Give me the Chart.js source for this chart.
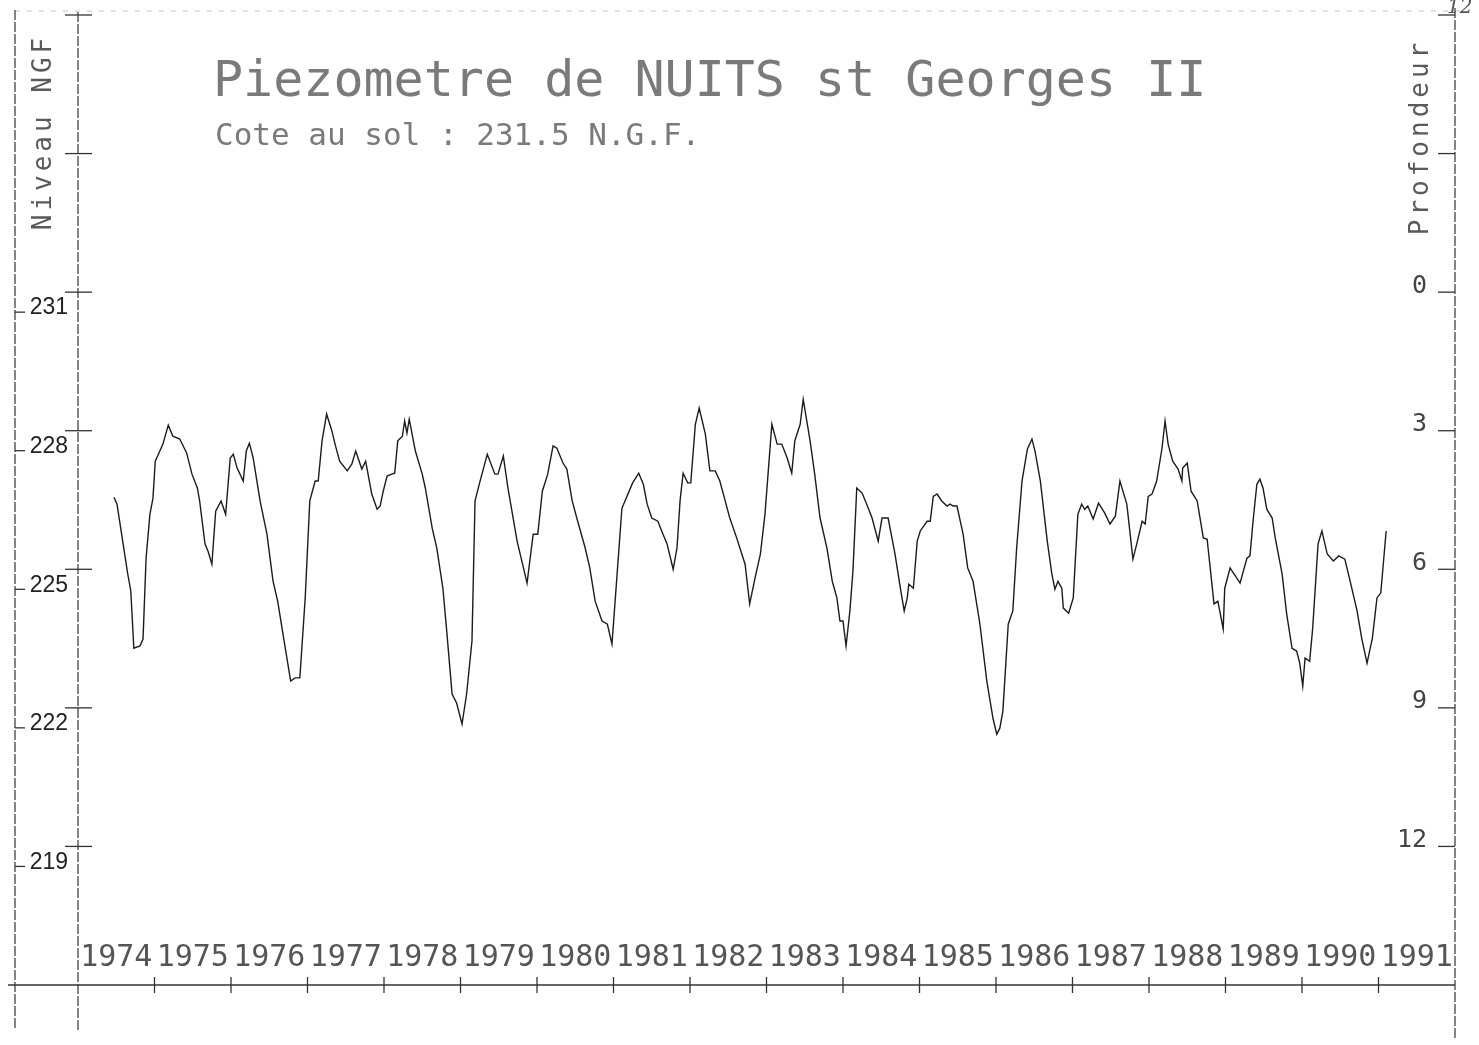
<!DOCTYPE html>
<html lang="fr">
<head>
  <meta charset="UTF-8" />
  <title>Piezometre de NUITS st Georges II</title>
  <style>
    body { margin: 0; background: #fff; }
    .cadre { width: 1479px; height: 1045px; position: relative; }
  </style>
</head>
<body>
  <div class="cadre"><canvas id="graphe"></canvas></div>

  <script src="https://cdn.jsdelivr.net/npm/chart.js"></script>
  <script>
    // relevés (année décimale, niveau NGF en m)
    const annees = [
      1974.47, 1974.51, 1974.65, 1974.69, 1974.73, 1974.81, 1974.85, 1974.89, 1974.94, 1974.98,
      1975.01, 1975.07, 1975.11, 1975.18, 1975.24, 1975.33, 1975.42, 1975.49, 1975.56, 1975.59,
      1975.66, 1975.70, 1975.75, 1975.80, 1975.87, 1975.93, 1975.99, 1976.03, 1976.08, 1976.16,
      1976.20, 1976.24, 1976.29, 1976.38, 1976.47, 1976.55, 1976.61, 1976.71, 1976.78, 1976.84,
      1976.90, 1976.97, 1977.03, 1977.10, 1977.14, 1977.19, 1977.25, 1977.32, 1977.36, 1977.42,
      1977.52, 1977.58, 1977.63, 1977.71, 1977.76, 1977.84, 1977.91, 1977.95, 1977.99, 1978.04,
      1978.10, 1978.14, 1978.18, 1978.24, 1978.27, 1978.30, 1978.33, 1978.41, 1978.50, 1978.54,
      1978.63, 1978.69, 1978.77, 1978.82, 1978.89, 1978.95, 1979.02, 1979.08, 1979.15, 1979.19,
      1979.25, 1979.35, 1979.45, 1979.49, 1979.56, 1979.62, 1979.74, 1979.87, 1979.95, 1980.01,
      1980.07, 1980.14, 1980.21, 1980.26, 1980.34, 1980.39, 1980.46, 1980.52, 1980.63, 1980.69,
      1980.76, 1980.85, 1980.92, 1980.98, 1981.05, 1981.11, 1981.25, 1981.33, 1981.39, 1981.44,
      1981.50, 1981.58, 1981.63, 1981.70, 1981.78, 1981.83, 1981.87, 1981.91, 1981.97, 1982.01,
      1982.07, 1982.12, 1982.20, 1982.26, 1982.33, 1982.39, 1982.46, 1982.52, 1982.61, 1982.72,
      1982.78, 1982.85, 1982.92, 1982.98, 1983.07, 1983.14, 1983.20, 1983.27, 1983.33, 1983.37,
      1983.44, 1983.48, 1983.57, 1983.63, 1983.70, 1983.79, 1983.86, 1983.92, 1983.96, 1984.00,
      1984.04, 1984.09, 1984.13, 1984.18, 1984.25, 1984.31, 1984.38, 1984.46, 1984.51, 1984.59,
      1984.68, 1984.75, 1984.80, 1984.84, 1984.86, 1984.92, 1984.97, 1985.01, 1985.10, 1985.14,
      1985.18, 1985.23, 1985.29, 1985.36, 1985.40, 1985.44, 1985.49, 1985.57, 1985.63, 1985.70,
      1985.79, 1985.88, 1985.96, 1986.01, 1986.05, 1986.09, 1986.16, 1986.22, 1986.27, 1986.34,
      1986.41, 1986.47, 1986.51, 1986.58, 1986.67, 1986.73, 1986.77, 1986.81, 1986.86, 1986.88,
      1986.95, 1987.01, 1987.07, 1987.12, 1987.16, 1987.20, 1987.27, 1987.34, 1987.42, 1987.49,
      1987.56, 1987.62, 1987.71, 1987.79, 1987.84, 1987.91, 1987.95, 1987.99, 1988.04, 1988.10,
      1988.17, 1988.21, 1988.25, 1988.31, 1988.38, 1988.43, 1988.44, 1988.50, 1988.55, 1988.63,
      1988.71, 1988.76, 1988.80, 1988.85, 1988.90, 1988.97, 1988.99, 1989.06, 1989.19, 1989.28,
      1989.32, 1989.36, 1989.41, 1989.45, 1989.49, 1989.54, 1989.61, 1989.65, 1989.74, 1989.80,
      1989.87, 1989.93, 1989.97, 1990.01, 1990.04, 1990.10, 1990.14, 1990.21, 1990.26, 1990.33,
      1990.41, 1990.48, 1990.56, 1990.63, 1990.72, 1990.78, 1990.85, 1990.92, 1990.98, 1991.03,
      1991.10
    ];
    const niveaux = [
      226.56, 226.41, 224.90, 224.53, 223.29, 223.34, 223.49, 225.24, 226.19, 226.54,
      227.34, 227.56, 227.71, 228.12, 227.88, 227.82, 227.52, 227.06, 226.76, 226.48,
      225.55, 225.39, 225.11, 226.26, 226.48, 226.19, 227.41, 227.49, 227.19, 226.91,
      227.56, 227.73, 227.41, 226.48, 225.76, 224.74, 224.31, 223.29, 222.58, 222.65,
      222.65, 224.38, 226.48, 226.91, 226.91, 227.78, 228.36, 227.99, 227.71, 227.34,
      227.13, 227.28, 227.56, 227.17, 227.34, 226.63, 226.30, 226.37, 226.69, 227.02,
      227.06, 227.08, 227.78, 227.88, 228.21, 227.95, 228.25, 227.56, 227.06, 226.76,
      225.89, 225.46, 224.59, 223.66, 222.30, 222.10, 221.65, 222.30, 223.45, 226.48,
      226.87, 227.49, 227.06, 227.06, 227.45, 226.76, 225.61, 224.70, 225.76, 225.76,
      226.69, 227.06, 227.67, 227.62, 227.30, 227.17, 226.48, 226.11, 225.46, 225.03,
      224.31, 223.88, 223.81, 223.38, 224.96, 226.32, 226.87, 227.08, 226.84, 226.41,
      226.11, 226.04, 225.83, 225.55, 225.00, 225.46, 226.48, 227.08, 226.87, 226.87,
      228.14, 228.49, 227.93, 227.13, 227.13, 226.91, 226.48, 226.11, 225.68, 225.11,
      224.25, 224.81, 225.33, 226.19, 228.14, 227.71, 227.71, 227.41, 227.08, 227.78,
      228.14, 228.68, 227.78, 227.06, 226.11, 225.46, 224.74, 224.38, 223.88, 223.88,
      223.34, 224.10, 224.96, 226.76, 226.65, 226.41, 226.11, 225.61, 226.11, 226.11,
      225.33, 224.59, 224.10, 224.38, 224.68, 224.59, 225.61, 225.83, 226.04, 226.04,
      226.58, 226.63, 226.48, 226.37, 226.41, 226.37, 226.37, 225.76, 225.03, 224.74,
      223.81, 222.58, 221.78, 221.43, 221.56, 221.93, 223.81, 224.10, 225.46, 226.91,
      227.60, 227.82, 227.56, 226.91, 225.61, 224.90, 224.57, 224.74, 224.59, 224.16,
      224.05, 224.38, 226.19, 226.41, 226.30, 226.37, 226.09, 226.43, 226.22, 225.98,
      226.15, 226.91, 226.41, 225.22, 225.55, 226.04, 225.98, 226.58, 226.63, 226.91,
      227.62, 228.21, 227.71, 227.34, 227.17, 226.91, 227.19, 227.30, 226.69, 226.48,
      225.68, 225.65, 225.03, 224.25, 224.31, 223.71, 224.59, 225.03, 224.70, 225.24,
      225.29, 226.04, 226.84, 226.95, 226.76, 226.30, 226.11, 225.68, 224.90, 224.03,
      223.29, 223.23, 222.97, 222.47, 223.08, 223.01, 223.73, 225.55, 225.83, 225.33,
      225.18, 225.29, 225.22, 224.74, 224.10, 223.51, 222.97, 223.51, 224.38, 224.49,
      225.83
    ];

    // axes
    const anneesAxe = [1974, 1975, 1976, 1977, 1978, 1979, 1980, 1981, 1982,
                       1983, 1984, 1985, 1986, 1987, 1988, 1989, 1990, 1991];
    const graduations = [219, 222, 225, 228, 231, 234, 237];
    const niveauxAxe = [231, 228, 225, 222, 219];
    const profondeursAxe = [0, 3, 6, 9, 12];
    const zeroProfondeur = 231;

    const titre = "Piezometre de NUITS st Georges II";
    const sousTitre = "Cote au sol : 231.5 N.G.F.";

    const MONO = '"DejaVu Sans Mono", monospace';

    const trace = {
      id: 'trace',
      beforeDatasetsDraw(chart) {
        const { ctx, chartArea: a, scales: { x, y } } = chart;
        const ligne = (x1, y1, x2, y2) => {
          ctx.beginPath(); ctx.moveTo(x1, y1); ctx.lineTo(x2, y2); ctx.stroke();
        };
        ctx.save();

        // bord haut, très pâle
        ctx.strokeStyle = '#c4c4c4';
        ctx.lineWidth = 1;
        ctx.setLineDash([5, 7]);
        ligne(15, 11, a.right + 10, 11);

        ctx.strokeStyle = '#333';
        ctx.lineWidth = 1.2;
        ctx.setLineDash([10, 2]);
        ligne(15, 10, 15, a.bottom + 45);          // cadre extérieur gauche
        ligne(a.left, 12, a.left, a.bottom + 45);   // axe des niveaux
        ligne(a.right, 8, a.right, a.bottom + 55);  // axe des profondeurs

        ctx.setLineDash([]);
        ctx.lineWidth = 1.4;
        ligne(8, a.bottom, a.right, a.bottom);      // axe des temps

        // graduations gauche et droite
        ctx.lineWidth = 1.3;
        graduations.forEach(v => {
          const py = y.getPixelForValue(v);
          ligne(a.left - 13, py, a.left + 14, py);
          ligne(a.right - 17, py, a.right, py);
        });
        // petits repères sur le cadre extérieur
        niveauxAxe.forEach(v => {
          const py = y.getPixelForValue(v) + 20;
          ligne(15, py, 25, py);
        });

        // graduations annuelles
        anneesAxe.slice(1).forEach(an => {
          const px = x.getPixelForValue(an);
          ligne(px, a.bottom - 8, px, a.bottom + 8);
        });
        ctx.restore();
      },
      afterDatasetsDraw(chart) {
        const { ctx, chartArea: a, scales: { x, y } } = chart;
        ctx.save();

        // titres
        ctx.fillStyle = '#7a7a7a';
        ctx.textAlign = 'left';
        ctx.textBaseline = 'alphabetic';
        ctx.font = '50px ' + MONO;
        ctx.fillText(titre, 213, 96);
        ctx.font = '31px ' + MONO;
        ctx.fillText(sousTitre, 215, 145);

        // titres d'axes
        ctx.fillStyle = '#5a5a5a';
        ctx.font = '26px ' + MONO;
        ctx.letterSpacing = '4px';
        ctx.textAlign = 'center';
        ctx.textBaseline = 'middle';
        ctx.save();
        ctx.translate(44, 132);
        ctx.rotate(-Math.PI / 2);
        ctx.fillText('Niveau NGF', 0, 0);
        ctx.restore();
        ctx.save();
        ctx.translate(1421, 137);
        ctx.rotate(-Math.PI / 2);
        ctx.fillText('Profondeur', 0, 0);
        ctx.restore();
        ctx.letterSpacing = '0px';

        // étiquettes des niveaux
        ctx.fillStyle = '#222';
        ctx.font = '23px "Liberation Sans Narrow", "Liberation Sans", sans-serif';
        ctx.textAlign = 'right';
        niveauxAxe.forEach(v => {
          ctx.fillText(String(v), 68, y.getPixelForValue(v) + 16);
        });

        // étiquettes des profondeurs
        ctx.font = '25px ' + MONO;
        ctx.fillStyle = '#444';
        profondeursAxe.forEach(p => {
          ctx.fillText(String(p), 1427, y.getPixelForValue(zeroProfondeur - p) - 6);
        });

        // années
        ctx.font = '30px ' + MONO;
        ctx.fillStyle = '#555';
        ctx.textAlign = 'center';
        anneesAxe.forEach(an => {
          ctx.fillText(String(an), x.getPixelForValue(an + 0.5), a.bottom - 27);
        });

        // numéro de page manuscrit
        ctx.font = 'italic 20px "DejaVu Serif", serif';
        ctx.fillStyle = '#555';
        ctx.textAlign = 'left';
        ctx.fillText('12', 1447, 8);

        ctx.restore();
      }
    };

    new Chart(document.getElementById('graphe'), {
      type: 'line',
      data: {
        datasets: [{
          label: 'Niveau NGF',
          data: annees.map((an, i) => ({ x: an, y: niveaux[i] })),
          borderColor: '#1c1c1c',
          borderWidth: 1.4,
          pointRadius: 0,
          tension: 0,
          fill: false
        }]
      },
      options: {
        responsive: true,
        maintainAspectRatio: false,
        animation: false,
        layout: { padding: { left: 78, right: 24, top: 15, bottom: 60 } },
        plugins: {
          legend: { display: false },
          tooltip: { enabled: false },
          title: { display: false }
        },
        scales: {
          x: { type: 'linear', min: 1974, max: 1992, display: false },
          y: { min: 216, max: 237, display: false }
        }
      },
      plugins: [trace]
    });
  </script>
</body>
</html>
